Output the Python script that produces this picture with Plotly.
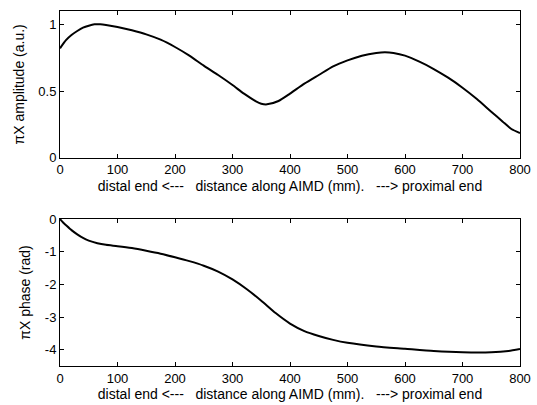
import plotly.graph_objects as go
from plotly.subplots import make_subplots

# Amplitude (top)
amp_x = [0, 10, 20, 30, 40, 50, 60, 70, 80, 100, 125, 150, 175, 200, 225, 250, 275, 300, 320, 340, 350, 360, 380, 400, 425, 450, 475, 500, 525, 550, 565, 580, 600, 625, 650, 675, 700, 725, 750, 770, 785, 800]
amp_y = [0.82, 0.88, 0.92, 0.95, 0.975, 0.99, 1.0, 1.0, 0.995, 0.98, 0.955, 0.925, 0.885, 0.83, 0.765, 0.69, 0.62, 0.545, 0.48, 0.425, 0.405, 0.40, 0.425, 0.48, 0.555, 0.62, 0.685, 0.73, 0.765, 0.785, 0.79, 0.785, 0.765, 0.72, 0.665, 0.6, 0.525, 0.44, 0.345, 0.27, 0.215, 0.185]

# Phase (bottom)
ph_x = [0, 5, 10, 20, 30, 40, 50, 65, 80, 100, 125, 150, 175, 200, 225, 250, 275, 300, 325, 350, 375, 400, 425, 450, 475, 500, 550, 600, 650, 700, 750, 780, 800]
ph_y = [0, -0.1, -0.18, -0.34, -0.47, -0.58, -0.66, -0.74, -0.79, -0.83, -0.89, -0.97, -1.06, -1.17, -1.29, -1.43, -1.61, -1.85, -2.15, -2.5, -2.88, -3.2, -3.43, -3.58, -3.7, -3.79, -3.9, -3.97, -4.04, -4.08, -4.08, -4.04, -3.98]

x_ticks = [0, 100, 200, 300, 400, 500, 600, 700, 800]
amp_ticks = [0, 0.5, 1]
amp_ticktext = ["0", "0.5", "1"]
ph_ticks = [0, -1, -2, -3, -4]
ph_ticktext = ["0", "-1", "-2", "-3", "-4"]

x_title = "distal end &lt;---   distance along AIMD (mm).   ---&gt; proximal end"

fig = make_subplots(rows=2, cols=1, vertical_spacing=0.1)
fig.add_trace(go.Scatter(x=amp_x, y=amp_y, mode="lines", line=dict(color="black", width=2, shape="spline", smoothing=0.6)), row=1, col=1)
fig.add_trace(go.Scatter(x=ph_x, y=ph_y, mode="lines", line=dict(color="black", width=2, shape="spline", smoothing=0.6)), row=2, col=1)

fam = "Liberation Sans, Arial, sans-serif"
tickfont = dict(family=fam, size=13, color="black")
titlefont = dict(family=fam, size=14, color="black")
axcommon = dict(showline=True, linecolor="black", linewidth=1, mirror="ticks", ticks="inside",
                ticklen=4, tickcolor="black", showgrid=False, zeroline=False, tickfont=tickfont,
                automargin=False)

fig.update_xaxes(range=[0, 800], tickvals=x_ticks, **axcommon)
fig.update_xaxes(title=dict(text=x_title, font=titlefont, standoff=4), row=1, col=1)
fig.update_xaxes(title=dict(text=x_title, font=titlefont, standoff=4), row=2, col=1)
fig.update_yaxes(range=[0, 1.1], tickvals=amp_ticks, ticktext=amp_ticktext,
                 title=dict(text="πX amplitude (a.u.)", font=titlefont, standoff=10), row=1, col=1, **axcommon)
fig.update_yaxes(range=[-4.5, 0], tickvals=ph_ticks, ticktext=ph_ticktext,
                 title=dict(text="πX phase (rad)", font=titlefont, standoff=10), row=2, col=1, **axcommon)

fig.update_layout(
    width=537, height=405, showlegend=False,
    paper_bgcolor="white", plot_bgcolor="white",
    margin=dict(l=60, r=17, t=11, b=39),
    font=titlefont,
)
fig.update_layout(yaxis=dict(domain=[0.5868, 1.0]), yaxis2=dict(domain=[0.0, 0.414]))

fig.write_html("out.html", config={"displayModeBar": False},
               post_script="document.body.style.margin='0';document.body.style.overflow='hidden';")
